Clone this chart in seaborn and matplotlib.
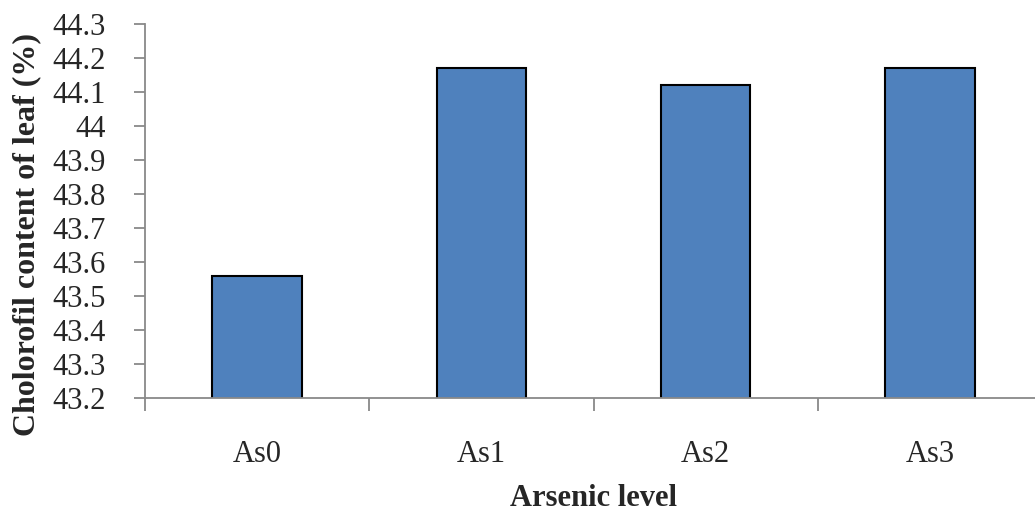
import matplotlib
matplotlib.use("Agg")
import matplotlib.pyplot as plt
import seaborn as sns
import pandas as pd
from matplotlib.ticker import FixedLocator

categories = ["As0", "As1", "As2", "As3"]
values = [43.56, 44.17, 44.12, 44.17]
y_ticks = [43.2, 43.3, 43.4, 43.5, 43.6, 43.7, 43.8, 43.9, 44.0, 44.1, 44.2, 44.3]
y_tick_labels = ["43.2", "43.3", "43.4", "43.5", "43.6", "43.7", "43.8", "43.9", "44", "44.1", "44.2", "44.3"]

sns.set_style("white")
plt.rcParams['font.family'] = ['Liberation Serif', 'DejaVu Serif']

df = pd.DataFrame({"level": categories, "value": values})

fig = plt.figure(figsize=(10.35, 5.15), dpi=100)
ax_w = (1042 - 145) / 1035
ax_h = (398 - 24) / 515
ax = fig.add_axes([145/1035, 1 - 398/515, ax_w, ax_h])

sns.barplot(data=df, x="level", y="value", color="#4F81BD", saturation=1,
            width=0.4, edgecolor="black", linewidth=1.5, ax=ax)

ax.set_ylim(43.2, 44.3)
ax.set_xlim(-0.5, 3.5)
ax.set_yticks(y_ticks)
ax.set_yticklabels(y_tick_labels)

gray = "#898989"
for side in ["top", "right"]:
    ax.spines[side].set_visible(False)
for side in ["left", "bottom"]:
    ax.spines[side].set_color(gray)
    ax.spines[side].set_linewidth(1.3)

ax.tick_params(axis="y", which="major", direction="out", length=8, width=1.3,
               color=gray, labelsize=22, pad=20, left=True)
ax.tick_params(axis="x", which="major", length=0, labelsize=22, pad=30)
ax.xaxis.set_minor_locator(FixedLocator([-0.5, 0.5, 1.5, 2.5, 3.5]))
ax.tick_params(axis="x", which="minor", direction="out", length=9, width=1.3,
               color=gray, bottom=True)

ax.set_xlabel("Arsenic level", fontsize=22, fontweight="bold")
ax.xaxis.set_label_coords((594 - 145) / (1042 - 145), -(484 - 398) / (398 - 24))
ax.set_ylabel("Cholorofil content of leaf (%)", fontsize=23, fontweight="bold")
ax.yaxis.set_label_coords((41 - 145) / (1042 - 145), (398 - 235) / (398 - 24))

fig.savefig("out.png", dpi=100)
